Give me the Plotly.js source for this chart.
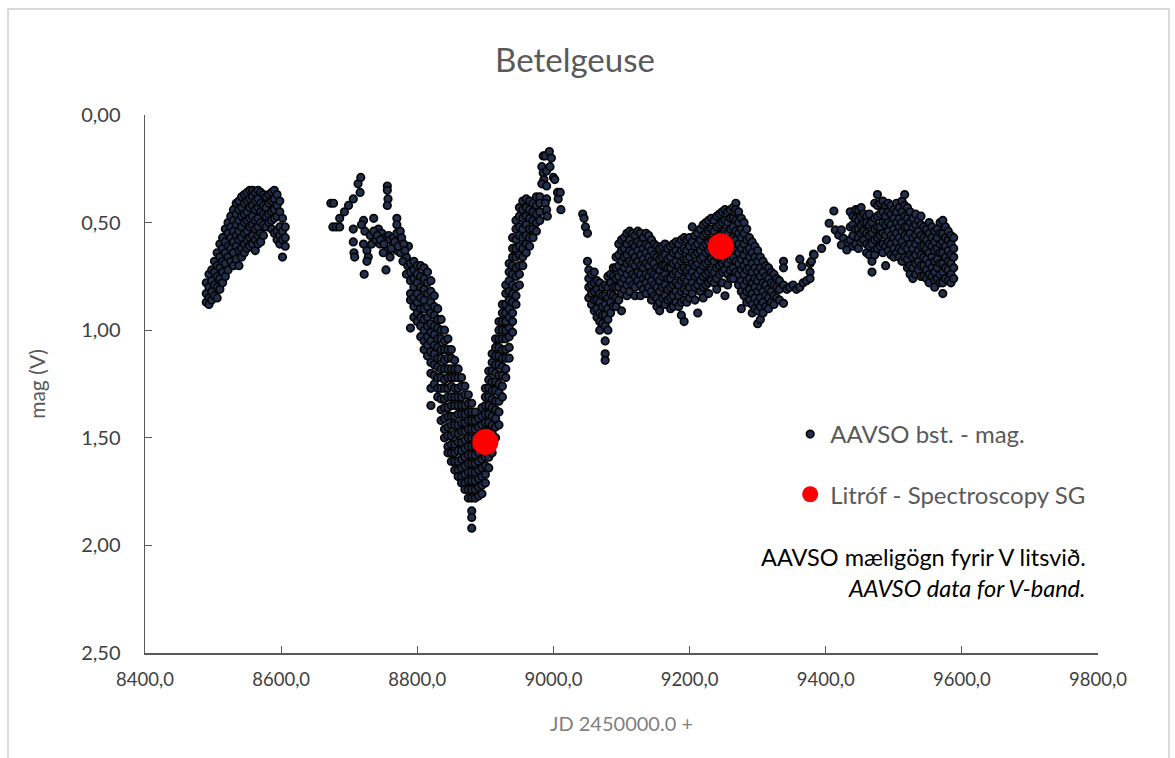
<!DOCTYPE html>
<html><head><meta charset="utf-8">
<script src="https://cdn.plot.ly/plotly-3.0.1.min.js"></script>
<style>
html,body{margin:0;padding:0;background:#fff;overflow:hidden}
#chart{width:1175px;height:758px}
#frame{position:absolute;left:7px;top:8px;width:1163px;height:770px;border:2px solid #d9d9d9;box-sizing:border-box;pointer-events:none}
</style>
</head><body>
<div id="chart"></div><div id="frame"></div>
<script>
// ---- Data ----
// Columns: [JD - 2450000, [magnitudes observed around that date]]
const season2019Early = [
  [8490,[0.78,0.83,0.87]],
  [8494,[0.74,0.80,0.85,0.88]],
  [8498,[0.72,0.77,0.82,0.86]],
  [8502,[0.68,0.73,0.79,0.84]],
  [8506,[0.64,0.70,0.75,0.80,0.85]],
  [8510,[0.60,0.66,0.71,0.76,0.81]],
  [8514,[0.57,0.62,0.68,0.73,0.78]],
  [8518,[0.53,0.59,0.64,0.69,0.75]],
  [8522,[0.50,0.55,0.61,0.66,0.72]],
  [8526,[0.47,0.52,0.57,0.62,0.68]],
  [8530,[0.44,0.49,0.54,0.59,0.64,0.70]],
  [8534,[0.41,0.46,0.51,0.56,0.61,0.67]],
  [8538,[0.40,0.44,0.49,0.54,0.58,0.63,0.70]],
  [8542,[0.38,0.43,0.47,0.52,0.57,0.62,0.66]],
  [8546,[0.37,0.41,0.46,0.50,0.55,0.60,0.64]],
  [8550,[0.36,0.40,0.45,0.49,0.54,0.58,0.62]],
  [8554,[0.35,0.39,0.43,0.48,0.52,0.57,0.61]],
  [8558,[0.35,0.38,0.42,0.47,0.51,0.56,0.60]],
  [8562,[0.36,0.40,0.44,0.49,0.53,0.58,0.63]],
  [8566,[0.35,0.39,0.43,0.48,0.52,0.56,0.60]],
  [8570,[0.36,0.41,0.45,0.50,0.55,0.59]],
  [8574,[0.37,0.42,0.46,0.51,0.56]],
  [8578,[0.38,0.43,0.47,0.52]],
  [8582,[0.37,0.41,0.46,0.50]],
  [8586,[0.36,0.40,0.45,0.49,0.53]],
  [8590,[0.35,0.39,0.44,0.48,0.55]],
  [8594,[0.37,0.42,0.47,0.54,0.58]],
  [8598,[0.40,0.45,0.52,0.56,0.60]],
  [8602,[0.48,0.54,0.58,0.66]],
  [8606,[0.52,0.57,0.61]]
];

// Individual points: [JD - 2450000, mag]
const season2019Late = [
  [8673,0.41],[8677,0.41],[8676,0.52],[8681,0.52],[8686,0.52],[8686,0.48],[8693,0.45],
  [8699,0.42],[8706,0.39],[8713,0.32],[8717,0.29],[8716,0.36],[8706,0.53],[8706,0.59],
  [8707,0.64],[8708,0.66],[8722,0.74],[8721,0.49],[8718,0.51],[8723,0.54],[8721,0.60],
  [8726,0.63],[8728,0.66],[8726,0.68],[8731,0.56],[8733,0.60],[8736,0.48],[8743,0.53],
  [8748,0.55],[8753,0.57],[8758,0.56],[8760,0.58],[8765,0.57],[8770,0.55],[8775,0.54],
  [8777,0.57],[8765,0.60],[8770,0.63],[8775,0.64],[8755,0.63],[8750,0.64],[8760,0.66],
  [8754,0.72],[8736,0.54],[8739,0.58],[8745,0.60],[8756,0.33],[8756,0.35],[8757,0.39],
  [8756,0.42],[8770,0.48],[8770,0.51],[8787,0.61],[8784,0.66],[8784,0.74],[8741,0.56],
  [8746,0.58],[8751,0.60],[8762,0.62],[8767,0.59],[8772,0.61],[8780,0.60],[8782,0.63],
  [8779,0.68],[8786,0.70]
];

const greatDimming = [
  [8790,[0.69,0.73,0.77,0.83,0.86,0.99]],
  [8795,[0.68,0.72,0.76,0.80,0.85,0.89,0.94]],
  [8800,[0.70,0.74,0.78,0.83,0.87,0.92,0.96]],
  [8805,[0.70,0.75,0.80,0.85,0.90,0.94,0.98,1.03]],
  [8810,[0.71,0.76,0.81,0.86,0.90,0.95,1.00,1.05,1.09]],
  [8815,[0.73,0.78,0.83,0.89,0.94,0.98,1.03,1.07,1.12]],
  [8820,[0.77,0.82,0.87,0.92,0.97,1.01,1.05,1.10,1.15,1.20,1.27,1.35]],
  [8825,[0.84,0.89,0.93,0.98,1.02,1.07,1.11,1.16,1.21,1.25]],
  [8830,[0.90,0.95,0.99,1.04,1.08,1.13,1.17,1.22,1.27,1.31]],
  [8835,[0.95,1.00,1.04,1.09,1.13,1.18,1.22,1.27,1.32,1.37,1.42]],
  [8840,[1.00,1.05,1.09,1.14,1.18,1.23,1.27,1.32,1.36,1.41,1.46,1.50]],
  [8845,[1.04,1.09,1.13,1.18,1.22,1.27,1.31,1.36,1.40,1.45,1.49,1.54,1.57]],
  [8850,[1.09,1.13,1.18,1.22,1.26,1.31,1.35,1.40,1.44,1.49,1.53,1.57,1.61]],
  [8855,[1.14,1.18,1.22,1.27,1.31,1.35,1.40,1.44,1.48,1.53,1.57,1.61,1.65]],
  [8860,[1.18,1.22,1.27,1.31,1.35,1.39,1.44,1.48,1.52,1.56,1.61,1.65,1.68]],
  [8865,[1.22,1.26,1.31,1.35,1.39,1.43,1.47,1.52,1.56,1.60,1.64,1.68,1.71]],
  [8870,[1.26,1.30,1.35,1.39,1.43,1.47,1.51,1.55,1.59,1.63,1.67,1.71,1.74]],
  [8875,[1.30,1.34,1.38,1.42,1.46,1.50,1.54,1.58,1.62,1.66,1.70,1.74,1.78]],
  [8880,[1.34,1.38,1.42,1.46,1.50,1.54,1.58,1.62,1.66,1.70,1.74,1.78,1.84,1.87,1.92]],
  [8885,[1.38,1.42,1.46,1.50,1.54,1.58,1.62,1.66,1.70,1.74,1.78]],
  [8890,[1.41,1.45,1.49,1.53,1.57,1.61,1.65,1.69,1.73,1.77]],
  [8895,[1.36,1.40,1.44,1.48,1.52,1.56,1.60,1.64,1.68,1.72,1.76]],
  [8900,[1.27,1.31,1.35,1.39,1.43,1.47,1.51,1.55,1.59,1.63,1.67,1.71]],
  [8905,[1.19,1.23,1.27,1.31,1.35,1.39,1.43,1.47,1.51,1.55,1.59,1.64]],
  [8910,[1.11,1.15,1.19,1.24,1.28,1.32,1.36,1.40,1.44,1.48,1.52,1.57]],
  [8915,[1.04,1.08,1.12,1.16,1.20,1.24,1.28,1.33,1.37,1.41,1.45,1.50]],
  [8920,[0.96,1.00,1.04,1.08,1.12,1.16,1.21,1.25,1.29,1.33,1.38,1.44]],
  [8925,[0.88,0.92,0.96,1.00,1.04,1.09,1.13,1.17,1.21,1.26,1.31]],
  [8930,[0.79,0.83,0.88,0.92,0.96,1.00,1.04,1.09,1.13,1.18,1.22]],
  [8935,[0.69,0.73,0.77,0.82,0.86,0.90,0.94,0.99,1.03,1.08,1.13]],
  [8940,[0.57,0.62,0.66,0.70,0.74,0.79,0.83,0.87,0.92,0.96,1.01]],
  [8945,[0.49,0.53,0.58,0.62,0.66,0.71,0.75,0.80,0.84,0.88]],
  [8950,[0.43,0.47,0.52,0.56,0.61,0.65,0.70,0.74,0.79]],
  [8955,[0.40,0.44,0.48,0.53,0.57,0.62,0.66,0.70]],
  [8960,[0.39,0.43,0.47,0.51,0.56,0.60,0.64]],
  [8965,[0.40,0.44,0.48,0.53,0.57,0.61]],
  [8970,[0.41,0.45,0.49,0.53,0.57]],
  [8975,[0.38,0.42,0.46,0.50,0.54]],
  [8980,[0.38,0.41,0.45,0.49]]
];

const brighteningPeak = [
  [8983,0.24],[8985,0.27],[8985,0.19],[8988,0.19],[8990,0.26],[8994,0.17],[8995,0.24],
  [8997,0.20],[9000,0.29],[9002,0.30],[8986,0.30],[8983,0.32],[8990,0.33],[9006,0.36],
  [9007,0.39],[8990,0.39],[8988,0.41],[8990,0.44],[8991,0.47],[9011,0.44],[9010,0.36],
  [9043,0.46],[9045,0.48],[9047,0.52],[9050,0.55],[9050,0.68]
];

const season2020 = [
  [9052,[0.72,0.76,0.80,0.85]],
  [9056,[0.74,0.79,0.83,0.88]],
  [9060,[0.73,0.78,0.82,0.86,0.91]],
  [9064,[0.77,0.81,0.86,0.90,0.94]],
  [9068,[0.78,0.83,0.87,0.92,0.96,1.00]],
  [9072,[0.80,0.84,0.89,0.93,0.97]],
  [9076,[0.79,0.84,0.88,0.93,0.98,1.05,1.11,1.14]],
  [9080,[0.75,0.80,0.85,0.90,0.95,1.00]],
  [9084,[0.74,0.78,0.83,0.87,0.92]],
  [9088,[0.71,0.75,0.80,0.84,0.89]],
  [9092,[0.66,0.71,0.76,0.80,0.85,0.89]],
  [9096,[0.60,0.65,0.70,0.75,0.80,0.86]],
  [9100,[0.58,0.63,0.68,0.73,0.78,0.83,0.91]],
  [9104,[0.57,0.62,0.66,0.71,0.76,0.81]],
  [9108,[0.55,0.60,0.65,0.69,0.74,0.79,0.84]],
  [9112,[0.54,0.58,0.63,0.68,0.72,0.77,0.82]],
  [9116,[0.55,0.60,0.64,0.69,0.74,0.79]],
  [9120,[0.56,0.61,0.66,0.70,0.75,0.80,0.84]],
  [9124,[0.54,0.59,0.63,0.68,0.73,0.77]],
  [9128,[0.55,0.60,0.65,0.70,0.74,0.79,0.84]],
  [9132,[0.57,0.62,0.67,0.71,0.76,0.81]],
  [9136,[0.55,0.60,0.64,0.69,0.74,0.78,0.83]],
  [9140,[0.56,0.61,0.66,0.70,0.75,0.80]],
  [9144,[0.58,0.63,0.68,0.73,0.77,0.82,0.86]],
  [9148,[0.60,0.65,0.69,0.74,0.79,0.84]],
  [9152,[0.61,0.66,0.71,0.75,0.80,0.85,0.89]],
  [9156,[0.62,0.67,0.72,0.77,0.82,0.87,0.91]],
  [9160,[0.61,0.66,0.70,0.75,0.80,0.85]],
  [9164,[0.60,0.65,0.70,0.74,0.79,0.84,0.88]],
  [9168,[0.62,0.67,0.71,0.76,0.81,0.86]],
  [9172,[0.61,0.66,0.71,0.76,0.80,0.85,0.90]],
  [9176,[0.60,0.64,0.69,0.74,0.79,0.84,0.89]],
  [9180,[0.59,0.63,0.68,0.73,0.78,0.82,0.87]],
  [9184,[0.60,0.65,0.70,0.74,0.79,0.84,0.89]],
  [9188,[0.58,0.63,0.68,0.72,0.77,0.82,0.87,0.93]],
  [9192,[0.57,0.62,0.67,0.71,0.76,0.81,0.86,0.96]],
  [9196,[0.58,0.63,0.67,0.72,0.77,0.82,0.87]],
  [9200,[0.57,0.61,0.66,0.71,0.75,0.80,0.85]],
  [9204,[0.52,0.59,0.64,0.69,0.73,0.78,0.83]],
  [9208,[0.56,0.61,0.65,0.70,0.75,0.80,0.86]],
  [9212,[0.55,0.60,0.64,0.69,0.74,0.79,0.92]],
  [9216,[0.53,0.58,0.63,0.67,0.72,0.77,0.82]],
  [9220,[0.51,0.56,0.61,0.66,0.70,0.75,0.80,0.85]],
  [9224,[0.50,0.55,0.60,0.64,0.69,0.74,0.79]],
  [9228,[0.49,0.54,0.59,0.63,0.68,0.73,0.78,0.83]],
  [9232,[0.48,0.53,0.58,0.62,0.67,0.72,0.77]],
  [9236,[0.49,0.54,0.58,0.63,0.68,0.73,0.78]],
  [9240,[0.47,0.52,0.57,0.61,0.66,0.71,0.76,0.81]],
  [9244,[0.46,0.51,0.56,0.60,0.65,0.70,0.74]],
  [9248,[0.45,0.50,0.55,0.59,0.64,0.69,0.73,0.78]],
  [9252,[0.44,0.49,0.54,0.58,0.63,0.68,0.72,0.84]],
  [9256,[0.45,0.50,0.55,0.60,0.65,0.69,0.74,0.79]],
  [9260,[0.44,0.48,0.53,0.58,0.62,0.67,0.72,0.76]],
  [9264,[0.43,0.48,0.52,0.57,0.62,0.66,0.71,0.76]],
  [9268,[0.41,0.44,0.49,0.54,0.58,0.63,0.68,0.73]],
  [9272,[0.45,0.50,0.55,0.60,0.64,0.69,0.74,0.79]],
  [9276,[0.48,0.53,0.57,0.62,0.67,0.72,0.77,0.82,0.90]],
  [9280,[0.50,0.55,0.60,0.65,0.70,0.74,0.79,0.84]],
  [9284,[0.53,0.58,0.63,0.68,0.72,0.77,0.82,0.87]],
  [9288,[0.57,0.62,0.66,0.71,0.76,0.81,0.86]],
  [9292,[0.59,0.64,0.69,0.73,0.78,0.83,0.88,0.92]],
  [9296,[0.61,0.66,0.71,0.76,0.80,0.85,0.90]],
  [9300,[0.63,0.68,0.73,0.77,0.82,0.87,0.91,0.97]],
  [9304,[0.66,0.71,0.75,0.80,0.85,0.89,0.95]],
  [9308,[0.68,0.73,0.78,0.82,0.87,0.92]],
  [9312,[0.70,0.75,0.79,0.84,0.89]],
  [9316,[0.71,0.76,0.81,0.85,0.90]],
  [9320,[0.73,0.78,0.82,0.87]],
  [9324,[0.74,0.79,0.84,0.88]],
  [9328,[0.76,0.80,0.85]],
  [9332,[0.77,0.81,0.86]],
  [9338,[0.68,0.71,0.79,0.875]]
];

const season2021Start = [
  [9343,0.81],[9347,0.80],[9352,0.79],[9357,0.81],[9362,0.80],[9362,0.67],[9365,0.705],
  [9367,0.78],[9372,0.77],[9377,0.69],[9377,0.73],[9377,0.76],[9379,0.68],[9382,0.646],
  [9383,0.65],[9394,0.62],[9401,0.58],[9405,0.503],[9412,0.446],[9414,0.534],[9419,0.558],
  [9423,0.534],[9426,0.573],[9431,0.596],[9423,0.604],[9431,0.627],[9446,0.604]
];

const season2021 = [
  [9436,[0.45,0.52,0.58]],
  [9440,[0.47,0.51,0.56,0.61]],
  [9444,[0.44,0.48,0.53,0.60]],
  [9448,[0.44,0.49,0.53,0.57,0.62]],
  [9452,[0.43,0.47,0.51,0.55,0.59]],
  [9456,[0.46,0.50,0.54,0.58]],
  [9460,[0.47,0.50,0.55,0.60,0.64]],
  [9464,[0.46,0.51,0.56,0.61,0.65]],
  [9468,[0.50,0.55,0.60,0.68,0.73]],
  [9472,[0.41,0.48,0.53,0.58,0.63,0.65]],
  [9476,[0.37,0.42,0.47,0.52,0.57,0.62]],
  [9480,[0.41,0.46,0.52,0.56,0.61]],
  [9484,[0.40,0.45,0.50,0.55,0.60,0.64]],
  [9488,[0.42,0.47,0.51,0.56,0.61,0.70]],
  [9492,[0.41,0.45,0.50,0.54,0.59,0.63]],
  [9496,[0.42,0.46,0.51,0.56,0.60,0.65]],
  [9500,[0.44,0.48,0.53,0.57,0.62,0.66]],
  [9504,[0.41,0.45,0.50,0.55,0.59,0.64]],
  [9508,[0.43,0.48,0.52,0.57,0.62,0.66]],
  [9512,[0.40,0.45,0.50,0.54,0.59,0.63,0.68]],
  [9516,[0.37,0.42,0.47,0.52,0.56,0.61,0.66]],
  [9520,[0.43,0.48,0.52,0.57,0.62,0.67,0.71]],
  [9524,[0.45,0.50,0.55,0.60,0.65,0.70,0.74]],
  [9528,[0.48,0.52,0.57,0.62,0.66,0.71,0.76]],
  [9532,[0.46,0.51,0.56,0.60,0.65,0.69,0.74]],
  [9536,[0.49,0.54,0.58,0.63,0.68,0.72]],
  [9540,[0.47,0.51,0.56,0.61,0.65,0.70,0.75]],
  [9544,[0.52,0.57,0.61,0.66,0.70,0.75]],
  [9548,[0.53,0.58,0.62,0.67,0.72,0.76]],
  [9552,[0.50,0.55,0.60,0.64,0.69,0.74,0.78]],
  [9556,[0.52,0.57,0.61,0.66,0.71,0.75]],
  [9560,[0.54,0.59,0.63,0.68,0.73,0.77,0.80]],
  [9564,[0.53,0.57,0.62,0.67,0.71,0.76]],
  [9568,[0.50,0.55,0.60,0.64,0.69,0.74,0.78]],
  [9572,[0.49,0.55,0.59,0.64,0.69,0.73,0.78,0.83]],
  [9576,[0.52,0.57,0.61,0.66,0.71,0.76]],
  [9580,[0.54,0.58,0.63,0.68,0.72,0.77]],
  [9584,[0.56,0.60,0.65,0.69,0.74,0.78]],
  [9588,[0.57,0.62,0.66,0.71,0.76]]
];

// Spectroscopy (red) observations
const spectroJD  = [8900, 9246];
const spectroMag = [1.52, 0.61];

// Axis ticks
const xTicks = [8400, 8600, 8800, 9000, 9200, 9400, 9600, 9800];
const yTicks = [0, 0.5, 1.0, 1.5, 2.0, 2.5];

// ---- Build the AAVSO series from the named arrays ----
const aavsoJD = [], aavsoMag = [];
function addColumns(cols) { cols.forEach(c => c[1].forEach(m => { aavsoJD.push(c[0]); aavsoMag.push(m); })); }
function addPairs(pairs) { pairs.forEach(p => { aavsoJD.push(p[0]); aavsoMag.push(p[1]); }); }
addColumns(season2019Early);
addPairs(season2019Late);
addColumns(greatDimming);
addPairs(brighteningPeak);
addColumns(season2020);
addPairs(season2021Start);
addColumns(season2021);

const FONT = 'Lato, "Open Sans", sans-serif';

const traces = [
  {
    type: 'scatter', mode: 'markers', name: 'AAVSO bst. - mag.',
    x: aavsoJD, y: aavsoMag, legendgroup: 'a',
    marker: { size: 7.5, color: '#22304e', line: { color: '#050505', width: 1.7 } },
    hoverinfo: 'skip'
  },
  {
    type: 'scatter', mode: 'markers', name: 'Litróf - Spectroscopy SG',
    x: spectroJD, y: spectroMag, legendgroup: 'b',
    marker: { size: 26, color: '#ff0000', line: { width: 0 } },
    hoverinfo: 'skip'
  }
];

const layout = {
  width: 1175, height: 758,
  margin: { l: 145, r: 77, t: 115, b: 105 },
  paper_bgcolor: '#ffffff', plot_bgcolor: '#ffffff',
  separators: ',.',
  font: { family: FONT, color: '#595959' },
  title: {
    text: 'Betelgeuse', font: { family: FONT, size: 33, color: '#595959' },
    x: 575 / 1175, xref: 'container', xanchor: 'center',
    y: 1 - 60 / 758, yref: 'container', yanchor: 'middle'
  },
  xaxis: {
    range: [8400, 9800], tickmode: 'array', tickvals: xTicks, tickformat: '.1f',
    ticks: 'inside', ticklen: 7, tickwidth: 1, tickcolor: '#595959',
    showline: true, linecolor: '#595959', linewidth: 1.5,
    showgrid: false, zeroline: false,
    tickfont: { family: FONT, size: 18.5, color: '#404040' },
    ticklabelstandoff: 9,
    title: { text: 'JD 2450000.0 +', font: { family: FONT, size: 20, color: '#7f7f7f' }, standoff: 28 }
  },
  yaxis: {
    range: [2.5, 0], tickmode: 'array', tickvals: yTicks, tickformat: '.2f',
    ticks: 'inside', ticklen: 7, tickwidth: 1, tickcolor: '#595959',
    showline: true, linecolor: '#595959', linewidth: 1.5,
    showgrid: false, zeroline: false,
    tickfont: { family: FONT, size: 20, color: '#404040' },
    ticklabelstandoff: 19,
    title: { text: 'mag (V)', font: { family: FONT, size: 21, color: '#595959' }, standoff: 30 }
  },
  showlegend: true,
  legend: {
    x: 0.677, xanchor: 'left', y: 0.448, yanchor: 'top',
    bgcolor: 'rgba(0,0,0,0)', borderwidth: 0,
    font: { family: FONT, size: 24, color: '#595959' },
    tracegroupgap: 26, itemsizing: 'trace'
  },
  annotations: [
    {
      text: 'AAVSO mæligögn fyrir V litsvið.', showarrow: false,
      xref: 'paper', yref: 'paper', x: 0.9895, y: 0.178, xanchor: 'right', yanchor: 'middle',
      font: { family: FONT, size: 23.5, color: '#000000' }
    },
    {
      text: '<i>AAVSO data for V-band.</i>', showarrow: false,
      xref: 'paper', yref: 'paper', x: 0.9895, y: 0.12, xanchor: 'right', yanchor: 'middle',
      font: { family: FONT, size: 23.5, color: '#000000' }
    }
  ]
};

Plotly.newPlot('chart', traces, layout, { displayModeBar: false, staticPlot: true });
</script>
</body></html>
